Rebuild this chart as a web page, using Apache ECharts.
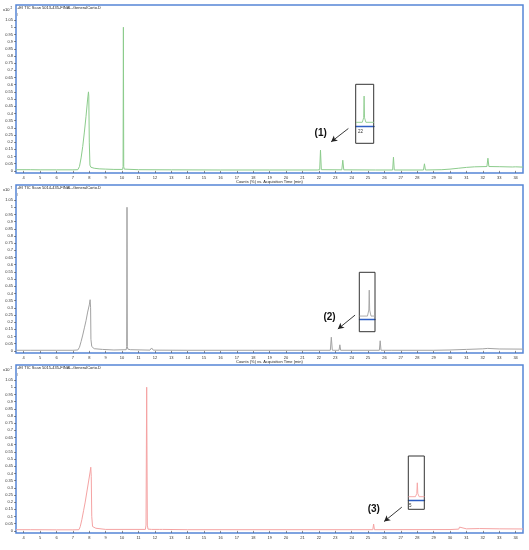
<!DOCTYPE html>
<html>
<head>
<meta charset="utf-8">
<script src="https://cdn.jsdelivr.net/npm/echarts@6/dist/echarts.min.js"></script>
<style>html,body{margin:0;padding:0;background:#fff}#c{width:529px;height:550px}</style>
</head>
<body>
<div id="c"></div>
<script>
// ---- data ----
const xTicks = [4,5,6,7,8,9,10,11,12,13,14,15,16,17,18,19,20,21,22,23,24,25,26,27,28,29,30,31,32,33,34];
const yTicks = [0,0.05,0.1,0.15,0.2,0.25,0.3,0.35,0.4,0.45,0.5,0.55,0.6,0.65,0.7,0.75,0.8,0.85,0.9,0.95,1,1.05];
const panelTitles = ["+EI TIC Scan 5013-435-FINAL-GeneralCorto.D","+EI TIC Scan 5014-435-FINAL-GeneralCorto.D","+EI TIC Scan 5015-435-FINAL-GeneralCorto.D"];
const scaleExp = ["2","7","2"];
const xAxisName = "Counts (%) vs. Acquisition Time (min)";

const time1 = [3.53,4.2,4.3,4.4,5,6,7,7.3,7.4,7.5,7.6,7.7,7.8,7.9,7.95,7.97,8.0,8.04,8.1,8.3,8.6,9,9.5,10.03,10.06,10.08,10.1,10.13,10.2,11,13,16,19,21.9,22.05,22.1,22.15,23.4,23.46,23.52,25.45,25.5,25.55,26.5,26.55,26.6,28.38,28.44,28.5,29.5,30,30.5,31,31.5,32.25,32.31,32.37,33,33.8,33.9,34,34.45];
const counts1 = [0.008,0.008,0.016,0.008,0.007,0.007,0.007,0.008,0.03,0.09,0.17,0.27,0.38,0.5,0.55,0.52,0.2,0.04,0.025,0.018,0.014,0.012,0.01,0.01,0.03,1.0,0.03,0.012,0.01,0.008,0.007,0.006,0.006,0.006,0.008,0.144,0.008,0.007,0.074,0.007,0.006,0.015,0.006,0.006,0.095,0.006,0.006,0.049,0.006,0.008,0.012,0.018,0.024,0.028,0.03,0.088,0.03,0.029,0.027,0.033,0.028,0.026];

const time2 = [3.53,4.2,4.3,4.4,6,7,7.3,7.4,7.5,7.6,7.7,7.8,7.9,8.0,8.05,8.08,8.1,8.15,8.3,8.8,9.5,10.25,10.28,10.3,10.32,10.35,10.5,11.7,11.8,11.9,14,18,22.7,22.76,22.82,23.23,23.28,23.33,25.69,25.74,25.79,26.45,26.5,26.55,29,30,31,32,32.3,33,34.45];
const counts2 = [0.004,0.004,0.008,0.004,0.004,0.004,0.006,0.025,0.065,0.11,0.16,0.21,0.27,0.32,0.356,0.3,0.08,0.03,0.015,0.01,0.006,0.008,0.03,1.0,0.03,0.012,0.008,0.005,0.02,0.005,0.004,0.004,0.004,0.095,0.004,0.004,0.042,0.004,0.004,0.07,0.004,0.004,0.008,0.004,0.004,0.006,0.01,0.014,0.017,0.013,0.012];

const time3 = [3.53,4.2,4.3,4.4,6,7,7.37,7.45,7.55,7.65,7.75,7.85,7.95,8.05,8.09,8.12,8.15,8.2,8.4,9,11.42,11.46,11.5,11.54,11.58,11.8,12.3,12.38,12.46,14,20,25.29,25.34,25.39,30,30.53,30.58,30.63,31,31.8,33,34.45];
const counts3 = [0.008,0.008,0.014,0.008,0.007,0.007,0.008,0.03,0.08,0.14,0.2,0.27,0.34,0.41,0.443,0.38,0.1,0.03,0.018,0.01,0.01,0.04,1.0,0.04,0.012,0.01,0.01,0.02,0.01,0.008,0.008,0.008,0.047,0.008,0.009,0.012,0.026,0.014,0.014,0.016,0.014,0.013];

// inset zooms (relative units)
const insetTime1 = [21.9,22.04,22.07,22.08,22.09,22.12,22.3];
const insetVal1 = [0.09,0.09,0.2,0.73,0.2,0.09,0.09];
const insetLabel1 = [22];
const insetTime2 = [25.55,25.73,25.76,25.77,25.78,25.81,25.9];
const insetVal2 = [0.07,0.07,0.2,0.63,0.2,0.07,0.07];
const insetTime3 = [25.2,25.33,25.355,25.365,25.375,25.4,25.5];
const insetVal3 = [0.077,0.077,0.15,0.4,0.15,0.077,0.077];

// annotations (data coordinates)
const noteLabels = ["(1)","(2)","(3)"];
const noteLabelPos = [[22.11,0.264],[22.65,0.235],[25.35,0.153]];
const arrowFrom = [[23.8,0.295],[24.21,0.249],[27.06,0.165]];
const arrowTo = [[22.75,0.202],[23.16,0.152],[25.98,0.065]];

// ---- chart ----
const colors = ['#8ccc8c','#a3a3a3','#f5a3a3'];
const frameBlue = '#5585d6';
const tops = [5,185,365];
const zip = (a,b) => a.map((v,i)=>[v,b[i]]);
const mainData = [zip(time1,counts1), zip(time2,counts2), zip(time3,counts3)];
const insetData = [zip(insetTime1,insetVal1), zip(insetTime2,insetVal2), zip(insetTime3,insetVal3)];

const grids = [], xAxes = [], yAxes = [], series = [], graphics = [];
for (let i=0;i<3;i++){
  grids.push({left:16, top:tops[i], width:507, height:168, show:true, borderColor:frameBlue, borderWidth:1.5, backgroundColor:'#fff'});
  xAxes.push({type:'value', gridIndex:i, min:3.53, max:34.45,
    splitLine:{show:false}, axisLine:{show:false},
    axisTick:{show:true, customValues:xTicks, length:2, lineStyle:{color:'#444', width:0.6}},
    axisLabel:{customValues:xTicks, fontSize:4, color:'#333', margin:3, fontFamily:'Liberation Sans'}});
  yAxes.push({type:'value', gridIndex:i, min:-0.015, max:1.155,
    splitLine:{show:false}, axisLine:{show:false},
    axisTick:{show:true, customValues:yTicks, length:2, lineStyle:{color:'#444', width:0.6}},
    axisLabel:{customValues:yTicks, fontSize:4, color:'#333', margin:3, fontFamily:'Liberation Sans', formatter:v=>String(v)}});
  series.push({type:'line', xAxisIndex:i, yAxisIndex:i, data:mainData[i], showSymbol:false, symbol:'none',
    lineStyle:{color:colors[i], width:1}, z:3, silent:true,
    markLine:{silent:true, symbol:['none','arrow'], symbolSize:[5,6], label:{show:false},
      lineStyle:{color:'#222', width:0.9, type:'solid'},
      data:[[{coord:arrowFrom[i]},{coord:arrowTo[i]}]]},
    markPoint:{silent:true, symbol:'rect', symbolSize:[1,1], itemStyle:{color:'rgba(0,0,0,0)'},
      label:{show:true, position:'inside', formatter:noteLabels[i], fontSize:10, fontWeight:'bold', color:'#111', fontFamily:'Liberation Sans'},
      data:[{coord:noteLabelPos[i]}]}
  });
  graphics.push({type:'text', left:17, top:tops[i]+1, z:10, style:{text:panelTitles[i], fontSize:4, fill:'#222', fontFamily:'Liberation Sans'}});
  graphics.push({type:'text', left:17, top:tops[i]+8, z:10, style:{text:'I', fontSize:4, fill:'#777', fontFamily:'Liberation Sans'}});
  graphics.push({type:'text', left:3, top:tops[i]+1.5, z:10, style:{rich:{a:{fontSize:4,fill:'#222'},b:{fontSize:3,fill:'#222',verticalAlign:'top',padding:[0,0,3,0]}}, text:'{a|x10 }{b|'+scaleExp[i]+'}', fontFamily:'Liberation Sans'}});
}
graphics.push({type:'text', left:236, top:179.5, z:10, style:{text:xAxisName, fontSize:4, fill:'#222', fontFamily:'Liberation Sans'}});
graphics.push({type:'text', left:236, top:359.5, z:10, style:{text:xAxisName, fontSize:4, fill:'#222', fontFamily:'Liberation Sans'}});

// inset boxes
const insetGrids = [
  {left:356, top:85, width:18, height:41},
  {left:359.5, top:273, width:15.5, height:46.3},
  {left:408.5, top:457, width:16, height:43}
];
const insetBoxes = [[355.7,84.3,18,59],[359.3,272.3,15.7,59.4],[408.3,456,16,53.3]];
const insetRanges = [[21.9,22.3],[25.55,25.9],[25.2,25.5]];
for (let k=0;k<3;k++){
  const gi = 3+k;
  grids.push(Object.assign({show:false}, insetGrids[k]));
  xAxes.push({type:'value', gridIndex:gi, min:insetRanges[k][0], max:insetRanges[k][1], splitLine:{show:false},
    axisLine:{show:true, onZero:false, lineStyle:{color:'#2f5fc4', width:1.4}}, axisTick:{show:false},
    axisLabel:k===0?{customValues:insetLabel1, fontSize:4.5, color:'#333', margin:3, fontFamily:'Liberation Sans'}:{show:false}});
  yAxes.push({type:'value', gridIndex:gi, min:0, max:1, show:false});
  series.push({type:'line', xAxisIndex:gi, yAxisIndex:gi, data:insetData[k], showSymbol:false, symbol:'none', silent:true,
    lineStyle:{color:colors[k], width:0.9}, z:6});
  graphics.push({type:'rect', z:4, shape:{x:insetBoxes[k][0], y:insetBoxes[k][1], width:insetBoxes[k][2], height:insetBoxes[k][3]},
    style:{fill:'rgba(255,255,255,0)', stroke:'#333', lineWidth:1}});
}
graphics.push({type:'text', left:409, top:503.5, z:10, style:{text:'5', fontSize:4.5, fill:'#333', fontFamily:'Liberation Sans'}});

const chart = echarts.init(document.getElementById('c'), null, {renderer:'canvas'});
chart.setOption({animation:false, backgroundColor:'#fff', grid:grids, xAxis:xAxes, yAxis:yAxes, series:series, graphic:graphics});
</script>
</body>
</html>
